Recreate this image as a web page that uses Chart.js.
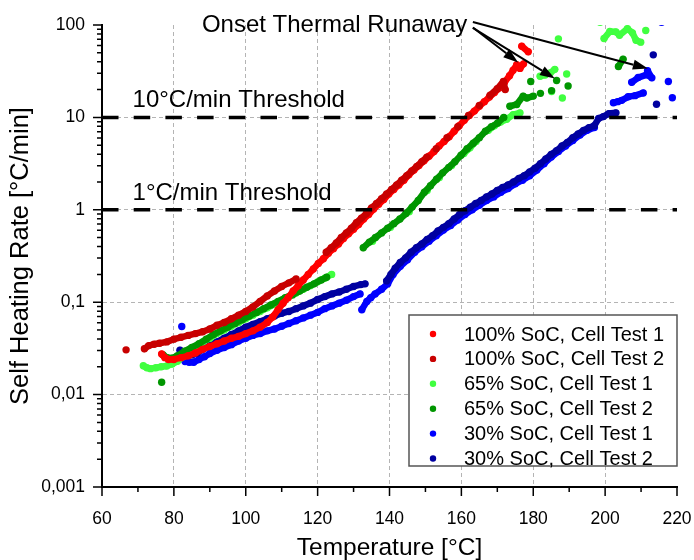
<!DOCTYPE html>
<html>
<head>
<meta charset="utf-8">
<script src="https://cdn.jsdelivr.net/npm/chart.js@4.4.1/dist/chart.umd.min.js"></script>
<style>
  html,body{margin:0;padding:0;background:#fff;}
  canvas{display:block;}
</style>
</head>
<body>
<canvas id="chart" width="694" height="560"></canvas>
<script>
const FONT = "'Liberation Sans', Arial, sans-serif";

// === Axis ticks ===
const xTicks = [60, 80, 100, 120, 140, 160, 180, 200, 220];
const xMinor = [70, 90, 110, 130, 150, 170, 190, 210];
const yTicks = [0.001, 0.01, 0.1, 1, 10, 100];
const yTickLabels = ["0,001", "0,01", "0,1", "1", "10", "100"];
const yMinorMantissa = [2, 3, 4, 5, 6, 7, 8, 9];

// === Threshold lines ===
const thresholds = [10, 1];
const thresholdLabels = ["10°C/min Threshold", "1°C/min Threshold"];

// === Series: temperature [°C] / self heating rate [°C/min] ===
// 100% SoC, Cell Test 1
const soc100t1T = [76.6,77.5,78.5,80,82,84,86,88,90,92,94,96,98,100,102,104,106,107.5,109,110.4,111.8,113.2,114.6,116,117.4,118.8,120.2,121.6,123,124.4,125.8,127.2,128.6,130,131.4,132.8,134.2,135.6,137,138.4,139.8,141.2,142.6,144,145.4,146.8,148.2,149.6,151,152.4,153.8,155.2,156.6,158,159.4,160.8,162.2,163.6,165,166.4,167.8,169.2,170.6,172,173.4,174.4,175.4,176.3,177.3,176.8,178.6];
const soc100t1R = [0.0275,0.0251,0.0240,0.0240,0.0251,0.0263,0.0282,0.0309,0.0331,0.0355,0.0380,0.0407,0.0427,0.0457,0.0490,0.0537,0.0603,0.0692,0.0832,0.0977,0.112,0.132,0.151,0.174,0.200,0.229,0.263,0.295,0.339,0.380,0.427,0.490,0.550,0.617,0.692,0.794,0.891,1.02,1.15,1.29,1.48,1.66,1.86,2.09,2.40,2.69,3.02,3.39,3.80,4.27,4.90,5.50,6.17,7.08,8.13,9.33,10.5,11.7,13.2,14.8,16.6,18.6,20.9,24.0,28.2,32.4,37.2,33.9,38.0,58.9,51.3];

// 100% SoC, Cell Test 2
const soc100t2T = [66.7,71.8,73,74.5,76,78,80,82,84,86,88,90,92,94,96,98,100,102,104,106,108,110,112,114,122.4,123.8,125.2,126.6,128,129.4,130.8,132.2,133.6,135,136.4,137.8,139.2,140.6,142,143.4,144.8,146.2,147.6,149,150.4,153,156,159,162,165,168,170,171.7,172.2];
const soc100t2R = [0.0305,0.0313,0.0339,0.0351,0.0359,0.0372,0.0398,0.0417,0.0437,0.0457,0.0479,0.0513,0.0562,0.0603,0.0661,0.0724,0.0794,0.0891,0.102,0.117,0.132,0.148,0.162,0.178,0.347,0.389,0.437,0.501,0.562,0.631,0.724,0.813,0.912,1.05,1.17,1.32,1.48,1.66,1.86,2.09,2.34,2.63,2.95,3.31,3.72,4.57,6.03,7.94,10.5,13.5,17.4,20.4,24.5,20.0];

// 65% SoC, Cell Test 1
const soc65t1T = [71.5,72.5,73.5,75,76.5,78,79.5,81,82.5,84,86,88,90,92,94,96,98,100,102,104,106,108,110,112,114,116,118,120,122,123.9,135.3,140.3,145.5,150.5,153.9,157.3,160.7,162.4,164.1,167.5,169.2,170.9,172.6,174.4,176.3,181.9,183.3,184.7,186,185.1,187,188.1,189.3,198.6,199.7,201.3,203,204,206.2,207.6,208.6,209.9,211.3];
const soc65t1R = [0.0205,0.0195,0.0191,0.0195,0.0200,0.0204,0.0214,0.0229,0.0257,0.0288,0.0331,0.0372,0.0407,0.0457,0.0501,0.0550,0.0603,0.0661,0.0724,0.0794,0.0871,0.0955,0.105,0.115,0.126,0.138,0.151,0.166,0.182,0.200,0.457,0.646,0.955,1.62,2.24,3.02,4.07,4.68,5.50,7.24,8.13,8.91,9.55,10.7,11.2,27.9,28.8,30.2,33.1,19.1,70.8,16.2,29.5,107,71.4,85.1,84.3,77.6,91.2,82.2,68.4,65.2,87.1];

// 65% SoC, Cell Test 2
const soc65t2T = [76.6,77,78.2,79.4,81,83,85,87,89,91,93,95,97,99,101,103,105,107,109,111,113,115,117,119,121,122.5,132.7,134.4,136.1,137.8,139.5,141.2,142.9,144.6,146.3,148,149.7,151.4,153.1,154.8,156.5,158.2,159.9,161.6,163.3,165,166.7,168.4,170.1,171.8,173.5,175.4,177.2,178.2,180,179.3,182,185.1,186.5,189.7,203.7,205];
const soc65t2R = [0.0136,0.0269,0.0251,0.0248,0.0263,0.0295,0.0324,0.0355,0.0398,0.0447,0.0490,0.0537,0.0589,0.0646,0.0708,0.0776,0.0851,0.0933,0.102,0.112,0.120,0.132,0.145,0.158,0.174,0.186,0.389,0.447,0.501,0.562,0.631,0.708,0.794,0.912,1.07,1.26,1.55,1.82,2.14,2.51,2.88,3.31,3.89,4.57,5.25,6.03,7.08,7.94,8.71,10.0,13.2,13.8,17.0,16.2,17.0,24.5,18.2,19.5,25.1,21.9,35.5,42.7];

// 30% SoC, Cell Test 1
const soc30t1T = [82.2,83.1,84.3,85.5,87,88.5,90,92,94,96,98,100,102,104,106,108,110,112,114,116,118,120,122,124,126,128,130,131.8,132.3,133.7,134.8,136,137.8,139.5,141,143,145,147,149,151,153,155,157,159,161,163,165,167,169,171,173,175,177,179,181,183,185,187,189,191,193,195,197,202.3,203.5,204.6,206.4,208.3,210.6,207.4,209.2,211.6,213,211.8,217.6,218.7,215.7];
const soc30t1R = [0.0545,0.0228,0.0224,0.0224,0.0240,0.0257,0.0279,0.0302,0.0324,0.0347,0.0380,0.0407,0.0437,0.0457,0.0490,0.0513,0.0550,0.0589,0.0631,0.0676,0.0724,0.0776,0.0851,0.0912,0.0977,0.105,0.115,0.123,0.083,0.102,0.112,0.123,0.138,0.158,0.200,0.245,0.288,0.347,0.398,0.457,0.525,0.603,0.676,0.776,0.891,1.00,1.12,1.26,1.38,1.55,1.70,1.91,2.09,2.34,2.69,3.16,3.72,4.27,4.90,5.62,6.46,7.24,7.76,14.4,14.8,15.3,16.7,17.2,18.4,24.0,27.0,29.0,26.8,32.0,24.5,16.3,107];

// 30% SoC, Cell Test 2
const soc30t2T = [81.7,83.5,85,86.5,88,90,92,94,96,98,100,102,104,106,108,110,112,114,116,118,120,122,124,126,128,130,132,133.2,139.2,140.4,141.6,143,144.5,146,147.5,149,150.5,152,153.5,155,156.5,158,159.5,161,162.5,164,165.5,167,168.5,170,171.5,173,174.5,176,177.5,179,180.5,182,183.5,185,186.5,188,189.5,191,192.5,194,195.5,197,198.2,199.5,201,203,213.4,214.3];
const soc30t2R = [0.0302,0.0269,0.0269,0.0282,0.0309,0.0339,0.0372,0.0407,0.0447,0.0490,0.0537,0.0575,0.0617,0.0661,0.0708,0.0759,0.0794,0.0851,0.0912,0.0977,0.107,0.115,0.123,0.129,0.138,0.148,0.155,0.158,0.170,0.200,0.234,0.269,0.302,0.347,0.389,0.427,0.479,0.525,0.589,0.646,0.708,0.794,0.891,0.977,1.07,1.17,1.26,1.38,1.48,1.62,1.74,1.86,2.00,2.19,2.34,2.57,2.82,3.16,3.55,3.98,4.37,4.90,5.37,6.03,6.61,7.24,7.76,8.13,9.77,10.2,11.0,11.2,47.5,13.9];

// === Annotation: onset of thermal runaway ===
const onsetText = "Onset Thermal Runaway";
const onsetAt = [87.8, 85];
const onsetArrows = [
  {from: [163.2, 108], to: [211.9, 33.8]},
  {from: [163.2, 94], to: [175.8, 39.3]},
  {from: [163.2, 93], to: [186.0, 26.3]}
];

function pts(T, R){ return T.map((t,i)=>({x:t, y:R[i]})); }

// dense runs of dots look like a band: bridge close neighbours with a thick stroke
const bandGap = 11;
function bridge(color){
  return c=>{
    const dx = c.p1.x - c.p0.x, dy = c.p1.y - c.p0.y;
    return Math.hypot(dx, dy) < bandGap ? color : "rgba(0,0,0,0)";
  };
}

function series(label, T, R, color, order){
  return {
    label, data: pts(T,R), order,
    pointRadius: 3.7, pointBorderWidth: 0,
    pointBackgroundColor: color, backgroundColor: color, borderColor: color,
    showLine: true, borderWidth: 6.5, borderCapStyle: "round", borderJoinStyle: "round",
    segment: {borderColor: bridge(color)},
    clip: 0
  };
}

const datasets = [
  series("100% SoC, Cell Test 1", soc100t1T, soc100t1R, "#ff0000", 2),
  series("100% SoC, Cell Test 2", soc100t2T, soc100t2R, "#c80000", 1),
  series("65% SoC, Cell Test 1",  soc65t1T,  soc65t1R,  "#40ff40", 4),
  series("65% SoC, Cell Test 2",  soc65t2T,  soc65t2R,  "#009600", 3),
  series("30% SoC, Cell Test 1",  soc30t1T,  soc30t1R,  "#0000ff", 6),
  series("30% SoC, Cell Test 2",  soc30t2T,  soc30t2R,  "#0000a0", 5)
];
thresholds.forEach(v=>{
  datasets.push({
    type: "line", label: "", order: -1, clip: 0,
    data: [{x: xTicks[0], y: v}, {x: xTicks[xTicks.length-1], y: v}],
    borderColor: "#000", borderWidth: 3.5, borderDash: [16.5, 15.2],
    borderCapStyle: "butt", pointRadius: 0, fill: false
  });
});

// === Minor / major tick marks ===
const tickMarks = {
  id: "tickMarks",
  afterDraw(chart){
    const {ctx, chartArea: a, scales: {x, y}} = chart;
    ctx.save();
    ctx.strokeStyle = "#000"; ctx.lineWidth = 1.5;
    ctx.beginPath();
    xTicks.forEach(t=>{ const p = x.getPixelForValue(t); ctx.moveTo(p, a.bottom); ctx.lineTo(p, a.bottom + 9); });
    xMinor.forEach(t=>{ const p = x.getPixelForValue(t); ctx.moveTo(p, a.bottom); ctx.lineTo(p, a.bottom + 5); });
    yTicks.forEach((v,i)=>{
      const p = y.getPixelForValue(v); ctx.moveTo(a.left, p); ctx.lineTo(a.left - 9, p);
      if(i < yTicks.length-1) yMinorMantissa.forEach(m=>{
        const q = y.getPixelForValue(m*v); ctx.moveTo(a.left, q); ctx.lineTo(a.left - 5, q);
      });
    });
    ctx.stroke();
    ctx.restore();
  }
};

// === Threshold labels, onset text and arrows ===
const notes = {
  id: "notes",
  afterDatasetsDraw(chart){
    const {ctx, scales: {x, y}} = chart;
    ctx.save();
    ctx.fillStyle = "#000"; ctx.strokeStyle = "#000";
    ctx.font = "24px " + FONT;
    ctx.textAlign = "left"; ctx.textBaseline = "alphabetic";
    thresholds.forEach((v,i)=>{
      ctx.fillText(thresholdLabels[i], x.getPixelForValue(68.5), y.getPixelForValue(v) - 10);
    });
    ctx.fillText(onsetText, x.getPixelForValue(onsetAt[0]), y.getPixelForValue(onsetAt[1]));
    ctx.lineWidth = 2;
    onsetArrows.forEach(a=>{
      const x0 = x.getPixelForValue(a.from[0]), y0 = y.getPixelForValue(a.from[1]);
      const x1 = x.getPixelForValue(a.to[0]),   y1 = y.getPixelForValue(a.to[1]);
      const ang = Math.atan2(y1-y0, x1-x0), L = 15, W = 5;
      const bx = x1 - L*Math.cos(ang), by = y1 - L*Math.sin(ang);
      ctx.beginPath(); ctx.moveTo(x0,y0); ctx.lineTo(bx,by); ctx.stroke();
      ctx.beginPath();
      ctx.moveTo(x1,y1);
      ctx.lineTo(bx + W*Math.sin(ang), by - W*Math.cos(ang));
      ctx.lineTo(bx - W*Math.sin(ang), by + W*Math.cos(ang));
      ctx.closePath(); ctx.fill();
    });
    ctx.restore();
  }
};

// === Legend box inside the plot ===
const legendBox = {
  id: "legendBox",
  afterDraw(chart){
    const {ctx, chartArea: a} = chart;
    const items = chart.data.datasets.filter(d=>d.label);
    const w = 268, h = 151, x0 = a.right - w, y0 = a.bottom - 172;
    ctx.save();
    ctx.fillStyle = "#fff"; ctx.fillRect(x0, y0, w, h);
    ctx.strokeStyle = "#555"; ctx.lineWidth = 1.5; ctx.strokeRect(x0, y0, w, h);
    ctx.font = "20px " + FONT; ctx.textBaseline = "middle"; ctx.textAlign = "left";
    items.forEach((d,i)=>{
      const cy = y0 + 19 + i*24.9;
      ctx.fillStyle = d.pointBackgroundColor;
      ctx.beginPath(); ctx.arc(x0 + 24, cy, 3.2, 0, Math.PI*2); ctx.fill();
      ctx.fillStyle = "#000";
      ctx.fillText(d.label, x0 + 55, cy + 1);
    });
    ctx.restore();
  }
};

const gridCol = "#b4b4b4";

new Chart(document.getElementById("chart"), {
  type: "scatter",
  data: {datasets},
  options: {
    responsive: false, animation: false, events: [],
    layout: {padding: {top: 25, right: 17, left: 0, bottom: 0}},
    plugins: {legend: {display: false}, tooltip: {enabled: false}},
    scales: {
      x: {
        type: "linear", min: xTicks[0], max: xTicks[xTicks.length-1],
        afterBuildTicks: s=>{ s.ticks = xTicks.map(v=>({value: v})); },
        afterFit: s=>{ s.height = 73; s.paddingLeft = 0; s.paddingRight = 0; },
        grid: {color: c=>(c.tick && (c.tick.value===60 || c.tick.value===220)) ? "rgba(0,0,0,0)" : gridCol, lineWidth: 1, drawTicks: false},
        border: {display: true, color: "#000", width: 2, dash: [4, 3]},
        ticks: {padding: 22, color: "#000", font: {family: FONT, size: 17.5}, maxRotation: 0, autoSkip: false, callback: v=>String(v)},
        title: {display: true, text: "Temperature [°C]", color: "#000", font: {family: FONT, size: 24.5, lineHeight: 1.0}, padding: {top: 0, bottom: 0}}
      },
      y: {
        type: "logarithmic", min: yTicks[0], max: yTicks[yTicks.length-1],
        afterBuildTicks: s=>{ s.ticks = yTicks.map(v=>({value: v})); },
        afterFit: s=>{ s.width = 102; s.paddingTop = 0; s.paddingBottom = 0; },
        grid: {color: c=>(c.tick && (c.tick.value===100 || c.tick.value===0.001)) ? "rgba(0,0,0,0)" : gridCol, lineWidth: 1, drawTicks: false},
        border: {display: true, color: "#000", width: 2, dash: [4, 3]},
        ticks: {padding: 17, color: "#000", font: {family: FONT, size: 17.5}, autoSkip: false, callback: v=>yTickLabels[yTicks.indexOf(v)]},
        title: {display: true, text: "Self Heating Rate [°C/min]", color: "#000", font: {family: FONT, size: 25.5, lineHeight: 1.0}, padding: {top: 8, bottom: 0}}
      }
    }
  },
  plugins: [tickMarks, notes, legendBox]
});
</script>
</body>
</html>
